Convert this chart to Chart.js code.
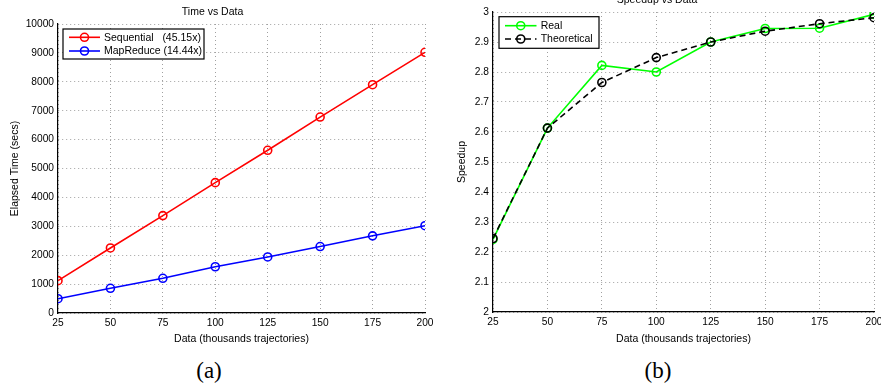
<!DOCTYPE html>
<html><head><meta charset="utf-8">
<script src="https://cdn.jsdelivr.net/npm/chart.js@4.4.1/dist/chart.umd.min.js"></script>
<style>
html,body{margin:0;padding:0;background:#fff;width:881px;height:385px;overflow:hidden;position:relative}
#c1{position:absolute;left:0;top:0}
#c2{position:absolute;left:440px;top:-12px}
.cap{position:absolute;font-family:"Liberation Serif","DejaVu Serif",serif;font-size:23px;line-height:23px;top:359px;width:60px;text-align:center;color:#000}
</style></head>
<body>
<canvas id="c1" width="440" height="345"></canvas>
<canvas id="c2" width="441" height="357"></canvas>
<div class="cap" style="left:179px">(a)</div>
<div class="cap" style="left:628px">(b)</div>
<script>
// ---- data ----
const dataSizes = [25, 50, 75, 100, 125, 150, 175, 200];
const sequentialTime = [1120, 2250, 3370, 4510, 5630, 6780, 7900, 9020];
const mapReduceTime = [495, 855, 1200, 1600, 1940, 2300, 2670, 3020];
const realSpeedup = [2.242, 2.613, 2.822, 2.800, 2.900, 2.945, 2.946, 2.992];
const theoreticalSpeedup = [2.245, 2.613, 2.765, 2.848, 2.900, 2.936, 2.961, 2.981];
const leftLabels = ['Sequential   (45.15x)', 'MapReduce (14.44x)'];
const rightLabels = ['Real', 'Theoretical'];

const toPoints = ys => dataSizes.map((x, i) => ({x: x, y: ys[i]}));

const FONT = '"Liberation Sans", Arial, Helvetica, sans-serif';
const TXT = '#000';

const boxLegend = {
  id: 'boxLegend',
  afterDraw(chart, args, o) {
    const ctx = chart.ctx;
    ctx.save();
    ctx.fillStyle = '#fff';
    ctx.fillRect(o.x, o.y, o.w, o.h);
    ctx.strokeStyle = '#000';
    ctx.lineWidth = 1.2;
    ctx.setLineDash([]);
    ctx.strokeRect(o.x, o.y, o.w, o.h);
    chart.data.datasets.forEach((ds, row) => {
      const cy = o.y + o.rows[row];
      ctx.strokeStyle = ds.borderColor;
      ctx.lineWidth = ds.borderWidth;
      ctx.setLineDash(ds.borderDash || []);
      ctx.beginPath();
      ctx.moveTo(o.x + o.s0, cy);
      ctx.lineTo(o.x + o.s1, cy);
      ctx.stroke();
      ctx.setLineDash([]);
      ctx.lineWidth = ds.pointBorderWidth;
      ctx.beginPath();
      ctx.arc(o.x + (o.s0 + o.s1) / 2, cy, ds.pointRadius, 0, Math.PI * 2);
      ctx.stroke();
      ctx.fillStyle = TXT;
      ctx.font = o.fontSize + 'px ' + FONT;
      ctx.textBaseline = 'middle';
      ctx.textAlign = 'left';
      ctx.fillText(ds.label, o.x + o.tx, cy + 0.5);
    });
    ctx.restore();
  }
};

function fixY(w) {
  return s => { s.width = w; s.paddingTop = 0; s.paddingBottom = 0; s.paddingLeft = 0; s.paddingRight = 0; };
}
function fixX(h) {
  return s => { s.height = h; s.paddingTop = 0; s.paddingBottom = 0; s.paddingLeft = 0; s.paddingRight = 0; };
}

const gridStyle = {color: '#a0a0a0', lineWidth: 1, drawTicks: false};
const borderStyle = {display: true, color: '#000', width: 1.2, dash: [1, 3]};

function makeChart(id, cfg) {
  return new Chart(document.getElementById(id), {
    type: 'line',
    data: {datasets: cfg.datasets},
    plugins: [boxLegend],
    options: {
      responsive: false,
      animation: false,
      devicePixelRatio: 1,
      layout: {padding: {left: 0, right: cfg.padRight, top: 0, bottom: 0}},
      plugins: {
        legend: {display: false},
        tooltip: {enabled: false},
        title: {display: true, text: cfg.title, color: TXT,
          font: {family: FONT, size: 10.5, weight: 'normal', lineHeight: 1.2},
          padding: {top: 6, bottom: 5.4}},
        boxLegend: cfg.legend
      },
      scales: {
        x: {
          type: 'linear', min: 25, max: 200,
          afterFit: fixX(cfg.xHeight),
          ticks: {stepSize: 25, color: TXT, padding: 4, maxRotation: 0,
            font: {family: FONT, size: 10.2}, callback: v => String(v)},
          grid: gridStyle, border: borderStyle,
          title: {display: true, text: 'Data (thousands trajectories)', color: TXT,
            font: {family: FONT, size: 10.5, lineHeight: 1.2}, padding: {top: cfg.xTitlePad, bottom: 0}}
        },
        y: {
          min: cfg.yMin, max: cfg.yMax,
          afterFit: fixY(cfg.yWidth),
          ticks: {stepSize: cfg.yStep, color: TXT, padding: 4,
            font: {family: FONT, size: 10.2}, callback: cfg.yFmt},
          grid: gridStyle, border: borderStyle,
          title: {display: true, text: cfg.yTitle, color: TXT,
            font: {family: FONT, size: 10.5, lineHeight: 1.2}, padding: {top: cfg.yTitlePad, bottom: 0}}
        }
      }
    }
  });
}

const lineDs = (label, ys, color, extra) => Object.assign({
  label: label, data: toPoints(ys), borderColor: color, backgroundColor: 'rgba(0,0,0,0)',
  borderWidth: 1.6, pointRadius: 4, pointBorderWidth: 1.6, pointBorderColor: color,
  pointBackgroundColor: 'rgba(0,0,0,0)', tension: 0, fill: false
}, extra || {});

makeChart('c1', {
  title: 'Time vs Data',
  datasets: [
    lineDs(leftLabels[0], sequentialTime, '#ff0000'),
    lineDs(leftLabels[1], mapReduceTime, '#0000ff')
  ],
  padRight: 15, xHeight: 32, yWidth: 58, xTitlePad: 3, yTitlePad: 9,
  yMin: 0, yMax: 10000, yStep: 1000, yFmt: v => String(v),
  yTitle: 'Elapsed Time (secs)',
  legend: {x: 63, y: 29, w: 141, h: 30, rows: [8.3, 22], s0: 6, s1: 37, tx: 41, fontSize: 10.5}
});

makeChart('c2', {
  title: 'Speedup vs Data',
  datasets: [
    lineDs(rightLabels[0], realSpeedup, '#00ff00', {order: 2}),
    lineDs(rightLabels[1], theoreticalSpeedup, '#000000', {order: 1, borderDash: [6, 4]})
  ],
  padRight: 7, xHeight: 33, yWidth: 53, xTitlePad: 4, yTitlePad: 16,
  yMin: 2, yMax: 3, yStep: 0.1, yFmt: v => String(Math.round(v * 10) / 10),
  yTitle: 'Speedup',
  legend: {x: 59, y: 28.7, w: 100, h: 31.6, rows: [9, 22.3], s0: 6, s1: 37.5, tx: 41.7, fontSize: 10.5}
});
</script>
</body></html>
